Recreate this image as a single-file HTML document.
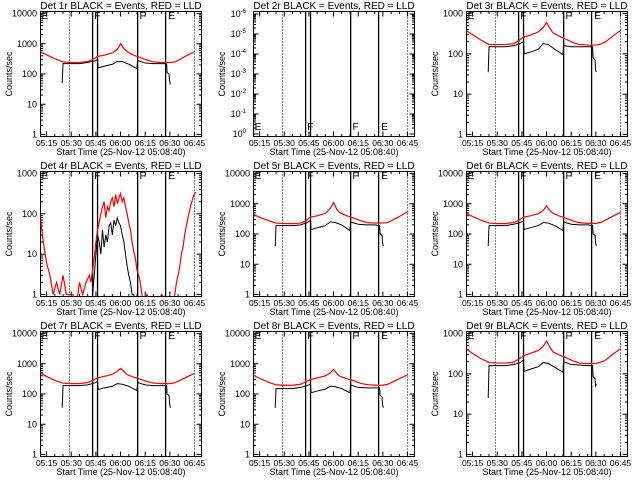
<!DOCTYPE html>
<html><head><meta charset="utf-8"><style>
html,body{margin:0;padding:0;background:#fff;}
svg{display:block;}
text{font-family:"Liberation Sans",sans-serif;}
</style></head><body>
<svg id="chart" width="640" height="480" viewBox="0 0 640 480"></svg>
<script>
// ---- data ----
const tRed = [11,15,20,25,30,35,40,43,46,50,55,58,60,62,64,68,72,76,80,85,90,93,96,100,105];
const tBlack = [24.5,25,30,35,40,44,46,46.3,50,55,58,61,65,70,70.3,75,80,85,88,88.3,89.5,89.8,90.3];
const red1 = [550,430,320,250,240,240,260,300,380,420,500,650,1000,700,550,420,350,290,250,240,240,250,300,400,550];
const black1 = [50,220,220,220,240,270,300,160,180,210,260,260,210,150,280,230,220,220,220,110,100,60,45];
const red3 = [380,300,220,170,170,170,180,210,260,290,350,450,600,430,330,270,230,190,170,165,165,175,200,270,380];
const black3 = [35,150,150,150,160,180,200,100,110,130,180,170,130,95,160,150,150,150,150,80,70,40,35];
const red5 = [450,360,280,230,220,220,230,270,360,400,480,700,1100,650,500,400,340,280,240,230,230,240,290,380,550];
const black5 = [40,190,190,190,200,240,280,140,160,190,250,240,200,130,250,210,200,200,190,100,90,50,40];
const red6 = [480,380,290,230,220,220,240,280,360,400,470,600,850,600,480,390,330,270,235,225,225,240,290,380,520];
const black6 = [40,190,190,190,210,240,270,140,160,190,240,230,190,130,250,210,200,200,190,100,90,50,40];
const red7 = [500,380,280,230,220,220,240,280,340,380,450,560,700,560,440,360,310,260,230,220,220,235,280,360,480];
const black7 = [35,190,190,190,200,230,260,140,160,180,220,210,180,130,240,200,190,190,190,100,90,50,35];
const red8 = [420,330,250,200,195,195,210,250,300,340,400,500,650,480,380,320,280,230,205,195,195,210,250,320,430];
const black8 = [35,150,150,150,165,190,210,110,125,145,180,175,150,110,200,165,160,160,160,90,80,45,35];
const red9 = [420,320,240,190,185,185,195,230,280,320,380,480,650,460,350,290,250,210,185,180,180,195,220,300,420];
const black9 = [25,160,160,160,170,190,220,115,130,150,190,180,145,110,200,170,165,160,160,85,75,50,55];
const tNoise = [11,13,15,17,19,21,23,25,27,29,31,33,35,37,39,41,42,43,44,45,46,47,48,49,50,51,52,53,54,55,56,57,58,59,60,61,62,63,64,65,66,67,68,69,70,71,72,73,74,76,80,85,90,93,94,95,96,97,98,99,100,101,102,103,104,105,106];
const red4 = [100,20,6,3,1,2,1,3,1,1,1,0.5,2,1,2,3,2,4,8,20,40,60,100,150,200,80,150,120,200,250,150,300,180,250,320,200,250,150,100,60,40,20,12,8,4,3,2,1,0.5,1,0.5,1,0.5,1,2,3,5,10,15,30,50,80,120,180,250,320,350];
const black4 = [0.5,0.5,0.5,0.5,0.5,0.5,0.5,0.5,0.5,0.5,0.5,0.5,0.5,0.5,0.5,0.5,0.5,1,3,10,30,20,10,40,15,30,20,50,60,30,70,50,80,60,50,30,20,10,5,3,2,1,1,0.5,0.5,0.5,0.5,0.5,0.5,0.5,0.5,0.5,0.5,0.5,0.5,0.5,0.5,0.5,0.5,0.5,0.5,0.5,0.5,0.5,0.5,0.5,0.5];
const timeTicks = [15,30,45,60,75,90,105];
const timeLabels = ["05:15","05:30","05:45","06:00","06:15","06:30","06:45"];
const solidLines = [43,46,70.4,87.4];
const dottedLines = [28.9,105];
const segLetters = ["E","F","F","E"];
const segLetterTimes = [12,44,71.5,89];

const panels = [
  {det:1, dec:4, red:red1, black:black1, t:tRed, tb:tBlack},
  {det:2, dec:0},
  {det:3, dec:3, red:red3, black:black3, t:tRed, tb:tBlack},
  {det:4, dec:3, red:red4, black:black4, t:tNoise, tb:tNoise},
  {det:5, dec:4, red:red5, black:black5, t:tRed, tb:tBlack},
  {det:6, dec:4, red:red6, black:black6, t:tRed, tb:tBlack},
  {det:7, dec:4, red:red7, black:black7, t:tRed, tb:tBlack},
  {det:8, dec:4, red:red8, black:black8, t:tRed, tb:tBlack},
  {det:9, dec:3, red:red9, black:black9, t:tRed, tb:tBlack}
];

const NS="http://www.w3.org/2000/svg";
const svg=document.getElementById('chart');
function mk(tag, attrs, parent){const e=document.createElementNS(NS,tag);for(const k in attrs)e.setAttribute(k,attrs[k]);(parent||svg).appendChild(e);return e;}

const L=40.5,R=201.5,T=11.5,B=136.5;
function xs(t){return L+(t-11.3)*1.644;}

panels.forEach((p,i)=>{
  const ox=(i%3)*213, oy=Math.floor(i/3)*160;
  const g=mk('g',{transform:`translate(${ox},${oy})`});
  
  
  const cp=mk('clipPath',{id:'cp'+i},g);
  mk('rect',{x:L,y:T,width:R-L,height:B-T},cp);
  const title=mk('text',{x:121,y:9,'font-size':10,'text-anchor':'middle'},g);
  title.textContent=`Det ${p.det}r BLACK = Events, RED = LLD`;
  
  
  const box=mk('rect',{x:L,y:T,width:R-L,height:B-T,fill:'none',stroke:'#000','stroke-width':1},g);
  
  
  // y axis
  let ys;
  if(p.dec===0){
    ys=v=>134.5-(v+6)*20; // unused
    for(let k=0;k<=6;k++){
      const y=14+k*20;
      mk('line',{x1:L,x2:L+5,y1:y,y2:y,stroke:'#000'},g);
      mk('line',{x1:R,x2:R-5,y1:y,y2:y,stroke:'#000'},g);
      if(k<6){for(let m=2;m<10;m++){const yy=y+20-Math.log10(m)*20;mk('line',{x1:L,x2:L+2.5,y1:yy,y2:yy,stroke:'#000'},g);mk('line',{x1:R,x2:R-2.5,y1:yy,y2:yy,stroke:'#000'},g);}}
      const tx=mk('text',{x:33,y:y+3,'font-size':9,'text-anchor':'end'},g);
      tx.textContent='10';
      const sp=mk('tspan',{dy:-4,'font-size':6},tx);
      sp.textContent=k===6?'0':'-'+(6-k);
      
      
    }
  } else {
    const ppd=121/p.dec;
    ys=v=>134.5-Math.log10(v)*ppd;
    for(let k=0;k<=p.dec;k++){
      const y=ys(Math.pow(10,k));
      mk('line',{x1:L,x2:L+5,y1:y,y2:y,stroke:'#000'},g);
      mk('line',{x1:R,x2:R-5,y1:y,y2:y,stroke:'#000'},g);
      if(k<p.dec){for(let m=2;m<10;m++){const yy=ys(m*Math.pow(10,k));mk('line',{x1:L,x2:L+2.5,y1:yy,y2:yy,stroke:'#000'},g);mk('line',{x1:R,x2:R-2.5,y1:yy,y2:yy,stroke:'#000'},g);}}
      const tx=mk('text',{x:37,y:y+3,'font-size':9,'text-anchor':'end'},g);
      tx.textContent=String(Math.pow(10,k));
      
      
    }
  }
  const yl=mk('text',{x:0,y:0,'font-size':9,'text-anchor':'middle',transform:'translate(12,74) rotate(-90)'},g);
  yl.textContent='Counts/sec';
  
  
  // x axis
  for(let t=15;t<=105;t+=5){const x=xs(t);const len=(t%15===0)?5:2.5;
    mk('line',{x1:x,x2:x,y1:B,y2:B-len,stroke:'#000'},g);mk('line',{x1:x,x2:x,y1:T,y2:T+len,stroke:'#000'},g);}
  timeTicks.forEach((t,j)=>{const tx=mk('text',{x:xs(t),y:146,'font-size':8.5,'text-anchor':'middle'},g);tx.textContent=timeLabels[j];
    
    });
  const xl=mk('text',{x:121,y:155,'font-size':9,'text-anchor':'middle'},g);
  xl.textContent='Start Time (25-Nov-12 05:08:40)';
  
  
  // vertical markers
  solidLines.forEach(t=>{const l=mk('line',{x1:xs(t),x2:xs(t),y1:T,y2:B,stroke:'#000','stroke-width':1.3},g);
    
    });
  dottedLines.forEach(t=>{const l=mk('line',{x1:xs(t),x2:xs(t),y1:T,y2:B,stroke:'#000','stroke-dasharray':'1,2'},g);
    
    });
  segLetters.forEach((s,j)=>{const yy=p.dec===0?130:19;const tx=mk('text',{x:xs(segLetterTimes[j]),y:yy,'font-size':10},g);tx.textContent=s;
    
    });
  if(p.red){
    const cg=mk('g',{'clip-path':`url(#cp${i})`},g);
    const bl=mk('polyline',{points:p.tb.map((t,j)=>xs(t)+','+ys(p.black[j])).join(' '),fill:'none',stroke:'#000','stroke-width':1},cg);
    
    
    const rl=mk('polyline',{points:p.t.map((t,j)=>xs(t)+','+ys(p.red[j])).join(' '),fill:'none',stroke:'#f00','stroke-width':1.2},cg);
    
    
  }
});
</script>
</body></html>
